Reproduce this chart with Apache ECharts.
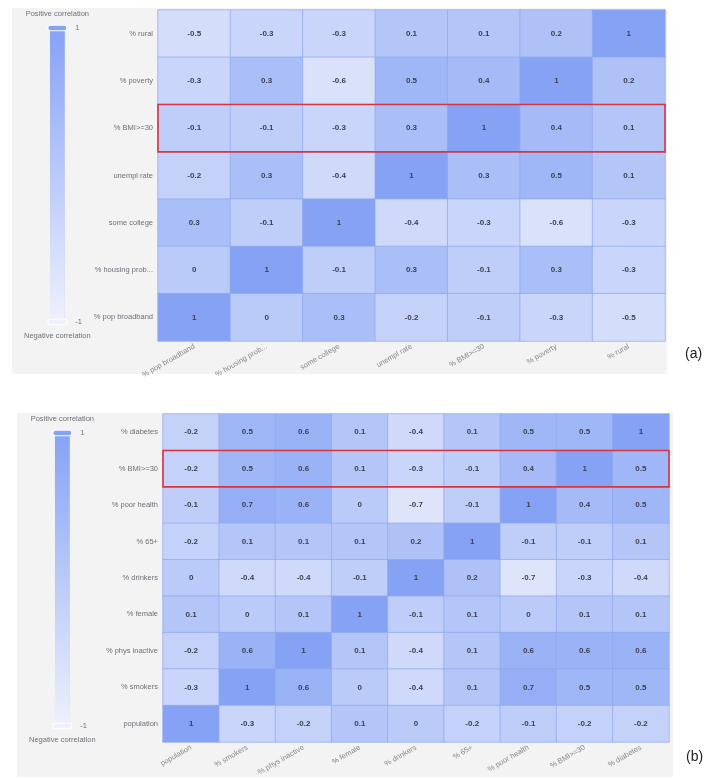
<!DOCTYPE html>
<html>
<head>
<meta charset="utf-8">
<script src="https://cdn.jsdelivr.net/npm/echarts@6/dist/echarts.min.js"></script>
<style>
  html, body { margin: 0; padding: 0; background: #ffffff; }
  #chart { width: 713px; height: 778px; }
</style>
</head>
<body>
<div id="chart"></div>
<script>
// Panel (a): socio-economic variables (x order, also y order bottom -> top)
const varsA = ['% pop broadband', '% housing prob...', 'some college', 'unempl rate', '% BMI>=30', '% poverty', '% rural'];
// Correlation rows, listed top -> bottom, columns follow varsA
const rowsTopA = ['% rural', '% poverty', '% BMI>=30', 'unempl rate', 'some college', '% housing prob...', '% pop broadband'];
const corrA = [
  [-0.5, -0.3, -0.3, 0.1, 0.1, 0.2, 1],
  [-0.3, 0.3, -0.6, 0.5, 0.4, 1, 0.2],
  [-0.1, -0.1, -0.3, 0.3, 1, 0.4, 0.1],
  [-0.2, 0.3, -0.4, 1, 0.3, 0.5, 0.1],
  [0.3, -0.1, 1, -0.4, -0.3, -0.6, -0.3],
  [0, 1, -0.1, 0.3, -0.1, 0.3, -0.3],
  [1, 0, 0.3, -0.2, -0.1, -0.3, -0.5]
];
const highlightA = '% BMI>=30';

// Panel (b): health variables
const varsB = ['population', '% smokers', '% phys inactive', '% female', '% drinkers', '% 65+', '% poor health', '% BMI>=30', '% diabetes'];
const rowsTopB = ['% diabetes', '% BMI>=30', '% poor health', '% 65+', '% drinkers', '% female', '% phys inactive', '% smokers', 'population'];
const corrB = [
  [-0.2, 0.5, 0.6, 0.1, -0.4, 0.1, 0.5, 0.5, 1],
  [-0.2, 0.5, 0.6, 0.1, -0.3, -0.1, 0.4, 1, 0.5],
  [-0.1, 0.7, 0.6, 0, -0.7, -0.1, 1, 0.4, 0.5],
  [-0.2, 0.1, 0.1, 0.1, 0.2, 1, -0.1, -0.1, 0.1],
  [0, -0.4, -0.4, -0.1, 1, 0.2, -0.7, -0.3, -0.4],
  [0.1, 0, 0.1, 1, -0.1, 0.1, 0, 0.1, 0.1],
  [-0.2, 0.6, 1, 0.1, -0.4, 0.1, 0.6, 0.6, 0.6],
  [-0.3, 1, 0.6, 0, -0.4, 0.1, 0.7, 0.5, 0.5],
  [1, -0.3, -0.2, 0.1, 0, -0.2, -0.1, -0.2, -0.2]
];
const highlightB = '% BMI>=30';

const legendText = ['Positive correlation', 'Negative correlation'];

const FONT = '"Liberation Sans", Arial, sans-serif';
const LABEL_GREY = '#6e7079';

function heatData(cols, rowsTop, matrix) {
  const out = [];
  matrix.forEach((row, r) => row.forEach((v, c) => out.push([cols[c], rowsTop[r], v])));
  return out;
}

function heatSeries(idx, cols, rowsTop, matrix) {
  return {
    type: 'heatmap',
    xAxisIndex: idx,
    yAxisIndex: idx,
    data: heatData(cols, rowsTop, matrix),
    label: {
      show: true,
      fontSize: 8,
      fontWeight: 'bold',
      color: '#3d4252',
      fontFamily: FONT,
      formatter: p => String(p.value[2])
    },
    itemStyle: { borderColor: '#8fa8ee', borderWidth: 0.7 },
    emphasis: { disabled: true }
  };
}

// Outline around one full row of a heatmap, sized from the axis bands
function rowBox(idx, cols, rowName) {
  return {
    type: 'custom',
    xAxisIndex: idx,
    yAxisIndex: idx,
    silent: true,
    z: 10,
    data: [[cols[0], rowName]],
    renderItem(params, api) {
      const row = api.value(1);
      const a = api.coord([0, row]);
      const b = api.coord([cols.length - 1, row]);
      const s = api.size([1, 1]);
      return {
        type: 'rect',
        shape: { x: a[0] - s[0] / 2, y: a[1] - s[1] / 2, width: b[0] - a[0] + s[0], height: s[1] },
        style: { fill: 'none', stroke: '#d8353f', lineWidth: 1.6 }
      };
    }
  };
}

function xAxis(idx, cols) {
  return {
    type: 'category', gridIndex: idx, data: cols,
    axisLine: { show: false }, axisTick: { show: false },
    axisLabel: { rotate: 30, fontSize: 7.5, color: '#85888f', margin: 5, interval: 0, fontFamily: FONT }
  };
}
function yAxis(idx, cols) {
  return {
    type: 'category', gridIndex: idx, data: cols,
    axisLine: { show: false }, axisTick: { show: false },
    axisLabel: { fontSize: 7.5, color: LABEL_GREY, margin: 5, interval: 0, fontFamily: FONT }
  };
}

function colorScale(seriesIndex, left, top, height) {
  return {
    type: 'continuous',
    seriesIndex: seriesIndex,
    min: -1, max: 1,
    calculable: true,
    orient: 'vertical',
    left: left, top: top,
    itemWidth: 15, itemHeight: height,
    text: legendText,
    textGap: 10,
    textStyle: { fontSize: 7.5, color: LABEL_GREY, fontFamily: FONT },
    inRange: { color: ['#eef1fc', '#85a2f5'] }
  };
}

const chart = echarts.init(document.getElementById('chart'), null, { renderer: 'canvas' });
chart.setOption({
  animation: false,
  backgroundColor: '#ffffff',
  textStyle: { fontFamily: FONT },
  graphic: [
    { type: 'rect', z: -10, silent: true, shape: { x: 12, y: 8, width: 655, height: 366 }, style: { fill: '#f3f3f3' } },
    { type: 'rect', z: -10, silent: true, shape: { x: 17, y: 413, width: 656, height: 364 }, style: { fill: '#f3f3f3' } },
    { type: 'text', x: 685, y: 354, style: { text: '(a)', font: '14px ' + FONT, fill: '#222', verticalAlign: 'middle' } },
    { type: 'text', x: 686, y: 757, style: { text: '(b)', font: '14px ' + FONT, fill: '#222', verticalAlign: 'middle' } }
  ],
  grid: [
    { left: 158, top: 10, width: 507, height: 331 },
    { left: 163, top: 414, width: 506, height: 331 }
  ],
  xAxis: [xAxis(0, varsA), xAxis(1, varsB)],
  yAxis: [yAxis(0, varsA), yAxis(1, varsB)],
  visualMap: [
    colorScale(0, 9, -5, 294),
    colorScale(2, 14, 400, 293)
  ],
  series: [
    heatSeries(0, varsA, rowsTopA, corrA),
    rowBox(0, varsA, highlightA),
    heatSeries(1, varsB, rowsTopB, corrB),
    rowBox(1, varsB, highlightB)
  ]
});
</script>
</body>
</html>
